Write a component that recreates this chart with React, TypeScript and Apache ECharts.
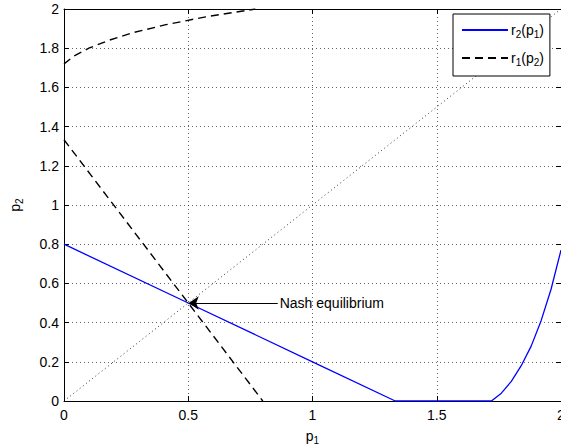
import React, { useEffect, useRef } from "react";
import * as echarts from "echarts";

// r2(p1): best response of player 2 (blue solid)
const r2X = [0, 0.5, 1, 1.333, 1.72, 1.76, 1.8, 1.84, 1.88, 1.92, 1.96, 2.0];
const r2Y = [0.8, 0.5, 0.2, 0, 0, 0.04, 0.1, 0.18, 0.28, 0.41, 0.57, 0.77];
// r1(p2): best response of player 1 (black dashed), two branches
const r1LowX = [0, 0.5, 0.8];
const r1LowY = [1.333, 0.5, 0];
const r1HighX = [0, 0.04, 0.1, 0.18, 0.28, 0.41, 0.57, 0.77];
const r1HighY = [1.72, 1.76, 1.8, 1.84, 1.88, 1.92, 1.96, 2.0];
// 45-degree reference line
const diagX = [0, 2];
const diagY = [0, 2];
// annotation
const nashPoint = [0.502, 0.5];
const nashLabelAt = [0.86, 0.5];
const nashText = "Nash equilibrium";
// ticks
const xTicks = [0, 0.5, 1, 1.5, 2];
const yTicks = [0, 0.2, 0.4, 0.6, 0.8, 1, 1.2, 1.4, 1.6, 1.8, 2];

const FONT = "Liberation Sans, Arial, Helvetica, sans-serif";

const zip = (xs: number[], ys: number[]) => xs.map((x, i) => [x, ys[i]]);

const rich = {
  a: { fontSize: 14, lineHeight: 18, fontFamily: FONT, color: "#000" },
  s: { fontSize: 10, lineHeight: 10, verticalAlign: "bottom", fontFamily: FONT, color: "#000" },
};

const legendRich: Record<string, string> = {
  "r2(p1)": "{a|r}{s|2}{a|(p}{s|1}{a|)}",
  "r1(p2)": "{a|r}{s|1}{a|(p}{s|2}{a|)}",
};

const gridLine = { show: true, lineStyle: { type: [1, 3] as any, color: "#222", width: 0.7 } };

export default function App() {
  const ref = useRef<HTMLDivElement>(null);
  useEffect(() => {
    if (!ref.current) return;
    const chart = echarts.init(ref.current, undefined, { renderer: "svg" });
    const xMin = xTicks[0], xMax = xTicks[xTicks.length - 1], xInt = xTicks[1] - xTicks[0];
    const yMin = yTicks[0], yMax = yTicks[yTicks.length - 1], yInt = yTicks[1] - yTicks[0];
    const axisCommon = {
      axisLine: { show: true, onZero: false, lineStyle: { color: "#000", width: 1 } },
      axisTick: { show: true, inside: true, length: 5, lineStyle: { color: "#000", width: 1 } },
    };
    chart.setOption({
      animation: false,
      backgroundColor: "#fff",
      textStyle: { fontFamily: FONT },
      grid: {
        left: 64,
        right: 0,
        top: 9,
        bottom: 47,
        containLabel: false,
        outerBoundsMode: "none",
      },
      legend: {
        orient: "vertical",
        left: 453,
        top: 14,
        padding: [9, 6, 9, 8],
        itemGap: 12,
        itemWidth: 46,
        itemHeight: 16,
        borderColor: "#000",
        borderWidth: 1,
        backgroundColor: "#fff",
        borderRadius: 0,
        itemStyle: { opacity: 0 },
        data: ["r2(p1)", "r1(p2)"],
        formatter: (n: string) => legendRich[n] || n,
        textStyle: { rich, padding: [0, 0, 0, -2] },
      },
      xAxis: [
        {
          type: "value",
          min: xMin,
          max: xMax,
          interval: xInt,
          position: "bottom",
          ...axisCommon,
          axisLabel: { margin: 7, color: "#000", fontSize: 14, fontFamily: FONT },
          splitLine: gridLine,
          name: "{a|p}{s|1}",
          nameLocation: "middle",
          nameGap: 26,
          nameTextStyle: { rich },
        },
        {
          type: "value",
          min: xMin,
          max: xMax,
          interval: xInt,
          position: "top",
          ...axisCommon,
          axisLabel: { show: false },
          splitLine: { show: false },
        },
      ],
      yAxis: [
        {
          type: "value",
          min: yMin,
          max: yMax,
          interval: yInt,
          position: "left",
          ...axisCommon,
          axisLabel: { margin: 5, color: "#000", fontSize: 14, fontFamily: FONT },
          splitLine: gridLine,
          name: "{a|p}{s|2}",
          nameLocation: "middle",
          nameGap: 40,
          nameRotate: 90,
          nameTextStyle: { rich },
        },
        {
          type: "value",
          min: yMin,
          max: yMax,
          interval: yInt,
          position: "right",
          ...axisCommon,
          axisLabel: { show: false },
          splitLine: { show: false },
        },
      ],
      series: [
        {
          name: "diag",
          type: "line",
          data: zip(diagX, diagY),
          showSymbol: false,
          symbol: "none",
          silent: true,
          lineStyle: { color: "#000", width: 0.8, type: [1, 3] },
          markLine: {
            silent: true,
            symbol: ["none", "arrow"],
            symbolSize: 10,
            lineStyle: { color: "#000", width: 1, type: "solid" },
            label: {
              show: true,
              position: "start",
              formatter: nashText,
              color: "#000",
              fontSize: 14,
              fontFamily: FONT,
              distance: 2,
            },
            data: [[{ coord: nashLabelAt }, { coord: nashPoint }]],
          },
        },
        {
          name: "r2(p1)",
          type: "line",
          data: zip(r2X, r2Y),
          showSymbol: false,
          symbol: "none",
          lineStyle: { color: "#0000ff", width: 1.3, type: "solid" },
          itemStyle: { color: "#0000ff" },
        },
        {
          name: "r1(p2)",
          type: "line",
          data: zip(r1LowX, r1LowY),
          showSymbol: false,
          symbol: "none",
          lineStyle: { color: "#000", width: 1.4, type: [8, 5] },
          itemStyle: { color: "#000" },
        },
        {
          name: "r1(p2)",
          type: "line",
          data: zip(r1HighX, r1HighY),
          showSymbol: false,
          symbol: "none",
          lineStyle: { color: "#000", width: 1.4, type: [8, 5] },
          itemStyle: { color: "#000" },
        },
      ],
    });
    return () => chart.dispose();
  }, []);
  return (
    <div
      ref={ref}
      style={{ position: "absolute", left: 0, top: 0, width: 561, height: 448 }}
    />
  );
}
